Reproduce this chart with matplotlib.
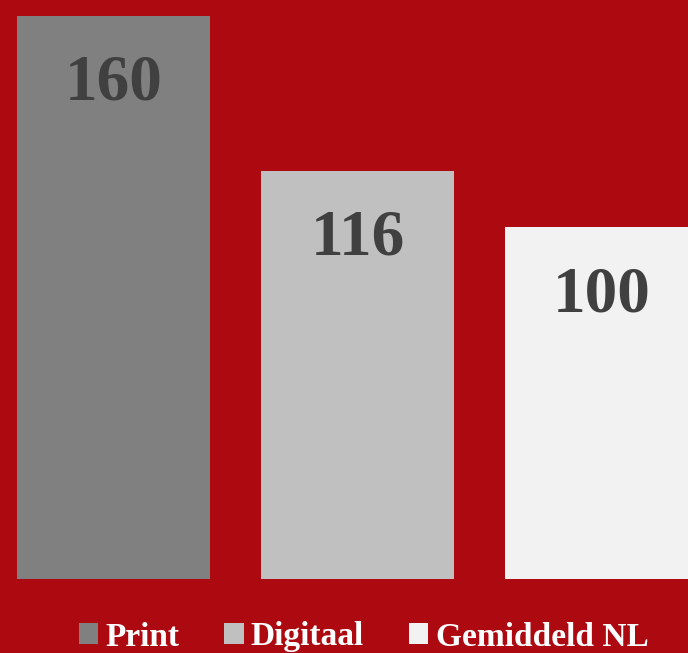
import matplotlib.pyplot as plt
from matplotlib.patches import Patch

categories = ["Print", "Digitaal", "Gemiddeld NL"]
values = [160, 116, 100]
colors = ["#808080", "#c0c0c0", "#f2f2f2"]
label_texts = ["160", "116", "100"]

BG = "#ad0911"
W, H = 688, 653
PX_PER_UNIT = 3.52  # vertical pixels per value unit


def main():
	fig = plt.figure(figsize=(W / 100, H / 100), dpi=100, facecolor=BG)
	ax = fig.add_axes([0, 74 / H, 1, 579 / H])
	ax.set_facecolor(BG)

	x = list(range(len(categories)))
	ax.bar(x, values, width=0.79, color=colors, linewidth=0)

	for xi, v, txt in zip(x, values, label_texts):
		ax.text(xi, v - 84 / PX_PER_UNIT, txt, ha="center", va="baseline",
			fontsize=47, fontweight="bold", family="Liberation Serif", color="#404040")

	ax.set_xlim(-0.4647, 2.355)
	ax.set_ylim(0, 579 / PX_PER_UNIT)
	ax.axis("off")

	handles = [Patch(facecolor=c, edgecolor="none", label=l) for c, l in zip(colors, categories)]
	leg = fig.legend(handles=handles, loc="center", bbox_to_anchor=(363.5 / W, 1 - 637 / H),
		ncol=3, frameon=False, handlelength=0.58, handleheight=0.58,
		handletextpad=0.22, columnspacing=1.35, borderpad=0,
		prop={"family": "Liberation Serif", "weight": "bold", "size": 24})
	for t in leg.get_texts():
		t.set_color("white")

	fig.savefig("out.png", dpi=100, facecolor=BG)
	plt.close(fig)


if __name__ == "__main__":
	main()
